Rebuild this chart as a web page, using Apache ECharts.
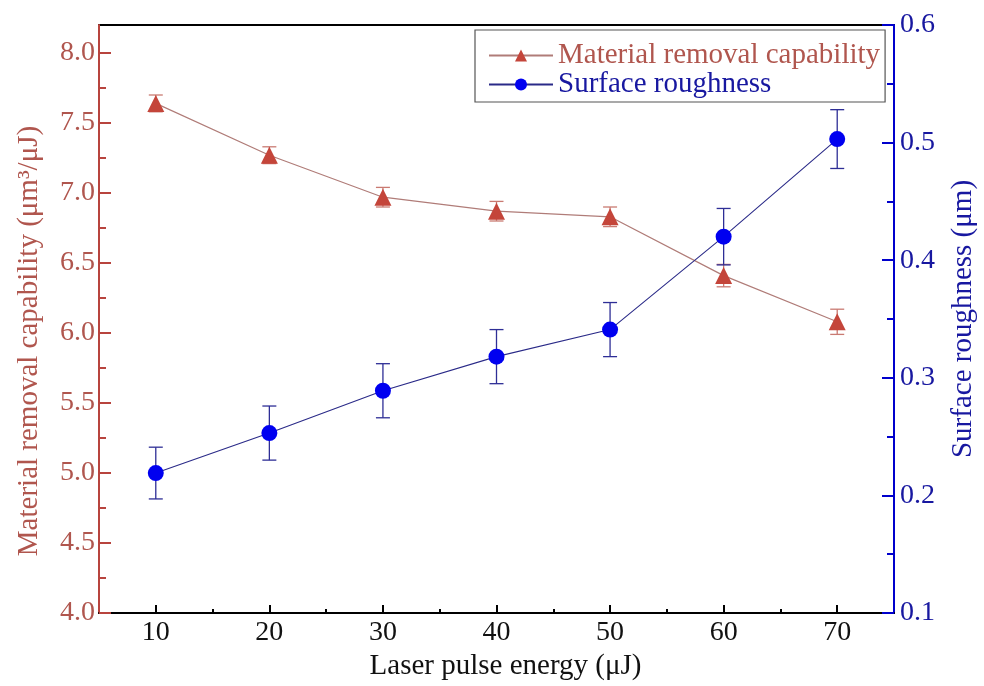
<!DOCTYPE html>
<html><head><meta charset="utf-8">
<script src="https://cdn.jsdelivr.net/npm/echarts@6/dist/echarts.min.js"></script>
<style>html,body{margin:0;padding:0;background:#fff}#c{width:984px;height:686px}</style>
</head><body><div id="c"></div>
<script>
const energy = [10, 20, 30, 40, 50, 60, 70];
const removal = [7.64, 7.27, 6.97, 6.87, 6.83, 6.41, 6.08];
const removalErr = [0.06, 0.06, 0.07, 0.07, 0.07, 0.08, 0.09];
const roughness = [0.219, 0.253, 0.289, 0.318, 0.341, 0.420, 0.503];
const roughnessErr = [0.022, 0.023, 0.023, 0.023, 0.023, 0.024, 0.025];
const xTicks = [10, 20, 30, 40, 50, 60, 70];
const xMinor = [15, 25, 35, 45, 55, 65];
const leftTicks = [4.0, 4.5, 5.0, 5.5, 6.0, 6.5, 7.0, 7.5, 8.0];
const leftMinor = [4.25, 4.75, 5.25, 5.75, 6.25, 6.75, 7.25, 7.75];
const rightTicks = [0.1, 0.2, 0.3, 0.4, 0.5, 0.6];
const rightMinor = [0.15, 0.25, 0.35, 0.45, 0.55];

const FONT = 'Liberation Serif';
const RED = '#c4453a', RED_TXT = '#b0564e', RED_AX = '#b8443e', RED_LINE = '#b07c78', RED_ERR = '#c97a72';
const BLUE = '#0000f0', BLUE_TXT = '#1818a0', BLUE_AX = '#0000cc', BLUE_LINE = '#2a2a88', BLUE_ERR = '#2e2e96';

function errData(xs, ys, es) {
  return xs.map((x, i) => [x, ys[i] - es[i], ys[i] + es[i]]);
}
function errRender(color) {
  return function (params, api) {
    const x = api.value(0), lo = api.value(1), hi = api.value(2);
    const a = api.coord([x, hi]), b = api.coord([x, lo]);
    const hw = 7;
    const st = { stroke: color, lineWidth: 1.3 };
    return { type: 'group', children: [
      { type: 'line', shape: { x1: a[0], y1: a[1], x2: b[0], y2: b[1] }, style: st },
      { type: 'line', shape: { x1: a[0] - hw, y1: a[1], x2: a[0] + hw, y2: a[1] }, style: st },
      { type: 'line', shape: { x1: b[0] - hw, y1: b[1], x2: b[0] + hw, y2: b[1] }, style: st }
    ]};
  };
}

const chart = echarts.init(document.getElementById('c'), null, { renderer: 'canvas' });
chart.setOption({
  animation: false,
  backgroundColor: '#fff',
  textStyle: { fontFamily: FONT },
  grid: { left: 99, right: 90, top: 25, bottom: 73, show: true, borderColor: '#000', borderWidth: 2, backgroundColor: 'transparent', outerBoundsMode: 'none' },
  legend: {
    orient: 'vertical', left: 475, top: 30,
    borderColor: '#555', borderWidth: 1.2, padding: [11, 5, 3, 13],
    itemGap: 0, itemWidth: 64, itemHeight: 15,
    textStyle: { fontFamily: FONT, fontSize: 29 },
    data: [
      { name: 'Material removal capability', textStyle: { color: RED_TXT } },
      { name: 'Surface roughness', textStyle: { color: BLUE_TXT } }
    ]
  },
  xAxis: [
    {
      type: 'value', min: 5, max: 75, position: 'bottom',
      name: 'Laser pulse energy (μJ)', nameLocation: 'middle', nameGap: 30,
      nameTextStyle: { fontSize: 29, color: '#111', fontFamily: FONT, padding: [0, 0, 0, 18] },
      axisLine: { show: true, onZero: false, lineStyle: { color: '#000', width: 2 } },
      axisTick: { show: true, inside: true, length: 8, customValues: xTicks, lineStyle: { color: '#000', width: 2 } },
      axisLabel: { customValues: xTicks, fontSize: 28, color: '#111', margin: 6, fontFamily: FONT },
      splitLine: { show: false }
    },
    {
      type: 'value', min: 5, max: 75, position: 'bottom',
      axisLine: { show: false, onZero: false },
      axisTick: { show: true, inside: true, length: 4, customValues: xMinor, lineStyle: { color: '#000', width: 2 } },
      axisLabel: { show: false },
      splitLine: { show: false }
    }
  ],
  yAxis: [
    {
      type: 'value', min: 4, max: 8.2, position: 'left',
      name: 'Material removal capability (μm³/μJ)', nameLocation: 'middle', nameGap: 55, nameRotate: 90,
      nameTextStyle: { fontSize: 29, color: RED_TXT, fontFamily: FONT, padding: [0, 44, 0, 0] },
      axisLine: { show: true, onZero: false, lineStyle: { color: RED_AX, width: 2 } },
      axisTick: { show: true, inside: true, length: 12, customValues: leftTicks, lineStyle: { color: RED_AX, width: 2 } },
      axisLabel: { customValues: leftTicks, fontSize: 28, color: RED_TXT, margin: 4, fontFamily: FONT, formatter: v => v.toFixed(1) },
      splitLine: { show: false }
    },
    {
      type: 'value', min: 0.1, max: 0.6, position: 'right',
      name: 'Surface roughness (μm)', nameLocation: 'middle', nameGap: 55, nameRotate: 90,
      nameTextStyle: { fontSize: 29, color: BLUE_TXT, fontFamily: FONT },
      axisLine: { show: true, onZero: false, lineStyle: { color: BLUE_AX, width: 2 } },
      axisTick: { show: true, inside: true, length: 12, customValues: rightTicks, lineStyle: { color: BLUE_AX, width: 2 } },
      axisLabel: { customValues: rightTicks, fontSize: 28, color: BLUE_TXT, margin: 6, fontFamily: FONT, formatter: v => v.toFixed(1) },
      splitLine: { show: false }
    },
    {
      type: 'value', min: 4, max: 8.2, position: 'left',
      axisLine: { show: false, onZero: false },
      axisTick: { show: true, inside: true, length: 7, customValues: leftMinor, lineStyle: { color: RED_AX, width: 2 } },
      axisLabel: { show: false }, splitLine: { show: false }
    },
    {
      type: 'value', min: 0.1, max: 0.6, position: 'right',
      axisLine: { show: false, onZero: false },
      axisTick: { show: true, inside: true, length: 7, customValues: rightMinor, lineStyle: { color: BLUE_AX, width: 2 } },
      axisLabel: { show: false }, splitLine: { show: false }
    }
  ],
  series: [
    {
      type: 'custom', name: 'removalErr', xAxisIndex: 0, yAxisIndex: 0,
      renderItem: errRender(RED_ERR), encode: { x: 0, y: [1, 2] },
      data: errData(energy, removal, removalErr), z: 2, silent: true
    },
    {
      type: 'custom', name: 'roughnessErr', xAxisIndex: 0, yAxisIndex: 1,
      renderItem: errRender(BLUE_ERR), encode: { x: 0, y: [1, 2] },
      data: errData(energy, roughness, roughnessErr), z: 2, silent: true
    },
    {
      type: 'line', name: 'Material removal capability', xAxisIndex: 0, yAxisIndex: 0,
      data: energy.map((x, i) => [x, removal[i]]),
      symbol: 'triangle', symbolSize: 17, z: 3,
      itemStyle: { color: RED },
      lineStyle: { color: RED_LINE, width: 1.2 }
    },
    {
      type: 'line', name: 'Surface roughness', xAxisIndex: 0, yAxisIndex: 1,
      data: energy.map((x, i) => [x, roughness[i]]),
      symbol: 'circle', symbolSize: 16, z: 3,
      itemStyle: { color: BLUE },
      lineStyle: { color: BLUE_LINE, width: 1.1 }
    }
  ]
});
</script>
</body></html>
